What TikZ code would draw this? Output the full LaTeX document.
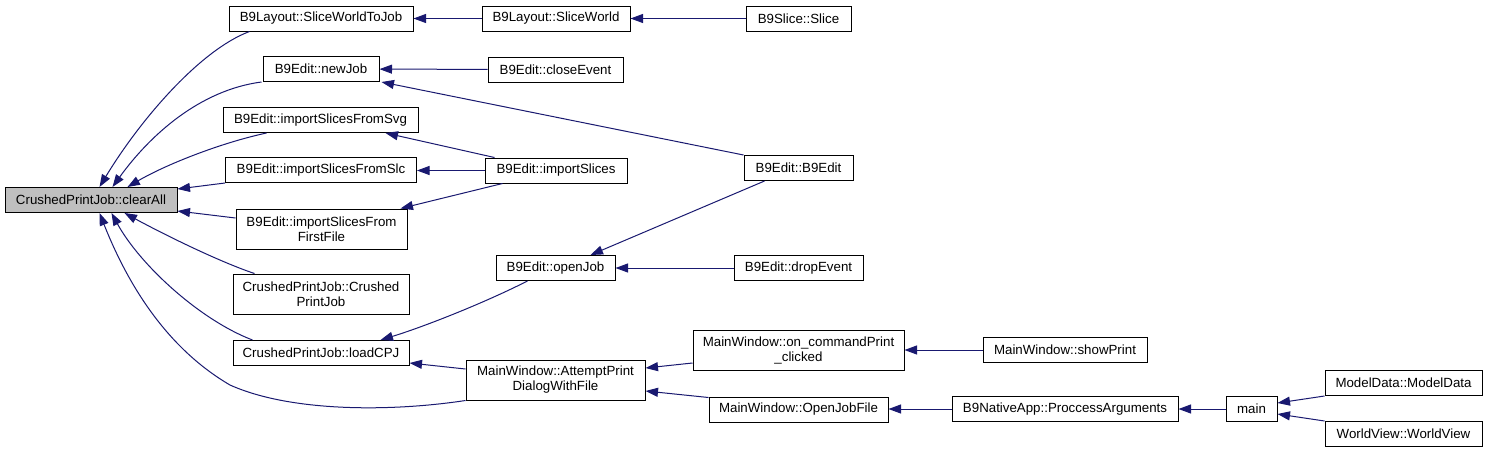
\documentclass[tikz,border=0pt]{standalone}
\usepackage{fontspec}
\setmainfont{Liberation Sans}
\usetikzlibrary{arrows.meta}
\definecolor{edgeblue}{HTML}{191970}
\definecolor{hilite}{HTML}{BFBFBF}
\begin{document}
\begin{tikzpicture}[x=1pt,y=-1pt,
  box/.style={draw=black, line width=1pt, fill=white, inner sep=0pt, align=center,
    minimum height=25, font=\fontsize{13.3}{15}\selectfont},
  tall/.style={minimum height=40},
  link/.style={draw=edgeblue, line width=1pt, {Triangle[length=12.5pt,width=9pt]}-}]
\useasboundingbox[fill=white] (0,0) rectangle (1488,453);
% column 1
\node[box, fill=hilite, minimum width=172] (clr) at (91,200) {CrushedPrintJob::clearAll};
% column 2
\node[box, minimum width=184] (swj) at (321,18.5) {B9Layout::SliceWorldToJob};
\node[box, minimum width=116] (nj) at (321,69) {B9Edit::newJob};
\node[box, minimum width=195] (svg) at (320.5,120) {B9Edit::importSlicesFromSvg};
\node[box, minimum width=191] (slc) at (321,170) {B9Edit::importSlicesFromSlc};
\node[box, tall, minimum width=171] (ff) at (321.5,229) {B9Edit::importSlicesFrom\\FirstFile};
\node[box, tall, minimum width=176] (cpj) at (321,294) {CrushedPrintJob::Crushed\\PrintJob};
\node[box, minimum width=176] (lc) at (321,353) {CrushedPrintJob::loadCPJ};
% column 3
\node[box, minimum width=148] (sw) at (556,18.5) {B9Layout::SliceWorld};
\node[box, minimum width=135] (ce) at (555.5,69.5) {B9Edit::closeEvent};
\node[box, minimum width=142] (is) at (556,170.5) {B9Edit::importSlices};
\node[box, minimum width=119] (oj) at (555.5,268) {B9Edit::openJob};
\node[box, tall, minimum width=179] (ap) at (555.5,380) {MainWindow::AttemptPrint\\DialogWithFile};
% column 4
\node[box, minimum width=105] (sl) at (798.5,18.5) {B9Slice::Slice};
\node[box, minimum width=109] (b9) at (798.5,168) {B9Edit::B9Edit};
\node[box, minimum width=129] (de) at (798.5,268) {B9Edit::dropEvent};
\node[box, tall, minimum width=211] (oc) at (798.5,350.5) {MainWindow::on\_commandPrint\\\_clicked};
\node[box, minimum width=179] (ojf) at (798.5,409.5) {MainWindow::OpenJobFile};
% column 5
\node[box, minimum width=164] (sp) at (1065,350) {MainWindow::showPrint};
\node[box, minimum width=226] (pa) at (1065,409) {B9NativeApp::ProccessArguments};
% column 6
\node[box, minimum width=51] (mn) at (1251.5,409) {main};
% column 7
\node[box, minimum width=157] (md) at (1403.5,383) {ModelData::ModelData};
\node[box, minimum width=157] (wv) at (1403.5,434) {WorldView::WorldView};

% edges into clearAll
\draw[link] ([xshift=95]clr.north west) .. controls (140,120) and (200,50) .. ([xshift=21]swj.south west);
\draw[link] ([xshift=108]clr.north west) .. controls (150,135) and (200,90) .. ([xshift=-1]nj.south west);
\draw[link] ([xshift=123]clr.north west) .. controls (165,165) and (220,143) .. ([xshift=44]svg.south west);
\draw[link] ([yshift=-2]clr.north east) -- (slc.south west);
\draw[link] ([yshift=2]clr.south east) -- ([yshift=11]ff.west);
\draw[link] ([xshift=120]clr.south west) .. controls (165,235) and (220,262) .. ([xshift=22]cpj.north west);
\draw[link] ([xshift=107]clr.south west) .. controls (140,265) and (200,320) .. ([xshift=20]lc.north west);
\draw[link] ([xshift=95]clr.south west) .. controls (130,290) and (170,350) .. (230,385)
  .. controls (290,412) and (390,412) .. (ap.south west);
% other edges
\draw[link] (swj) -- (sw);
\draw[link] (sw) -- (sl);
\draw[link] (nj) -- (ce);
\draw[link] ([xshift=2]nj.south east) -- (b9.north west);
\draw[link] ([xshift=-33]svg.south east) -- ([xshift=10]is.north west);
\draw[link] (slc.east |- is) -- (is);
\draw[link] ([xshift=-7]ff.north east) -- ([xshift=18]is.south west);
\draw[link] ([xshift=-25]oj.north east) -- ([xshift=21]b9.south west);
\draw[link] (oj) -- (de);
\draw[link] ([xshift=-29]lc.north east) .. controls (420,328) and (480,305) .. ([xshift=32]oj.south west);
\draw[link] ([yshift=-10]lc.east) -- ([yshift=11]ap.west);
\draw[link] ([yshift=12]ap.east) -- ([yshift=-12.5]oc.west);
\draw[link] ([yshift=-11]ap.east) -- ([yshift=-1]ojf.north west);
\draw[link] (oc.east |- sp) -- (sp);
\draw[link] (ojf.east |- pa) -- (pa);
\draw[link] (pa) -- (mn);
\draw[link] ([yshift=6]mn.east) -- (md.south west);
\draw[link] ([yshift=-5]mn.east) -- (wv.north west);
\end{tikzpicture}
\end{document}
